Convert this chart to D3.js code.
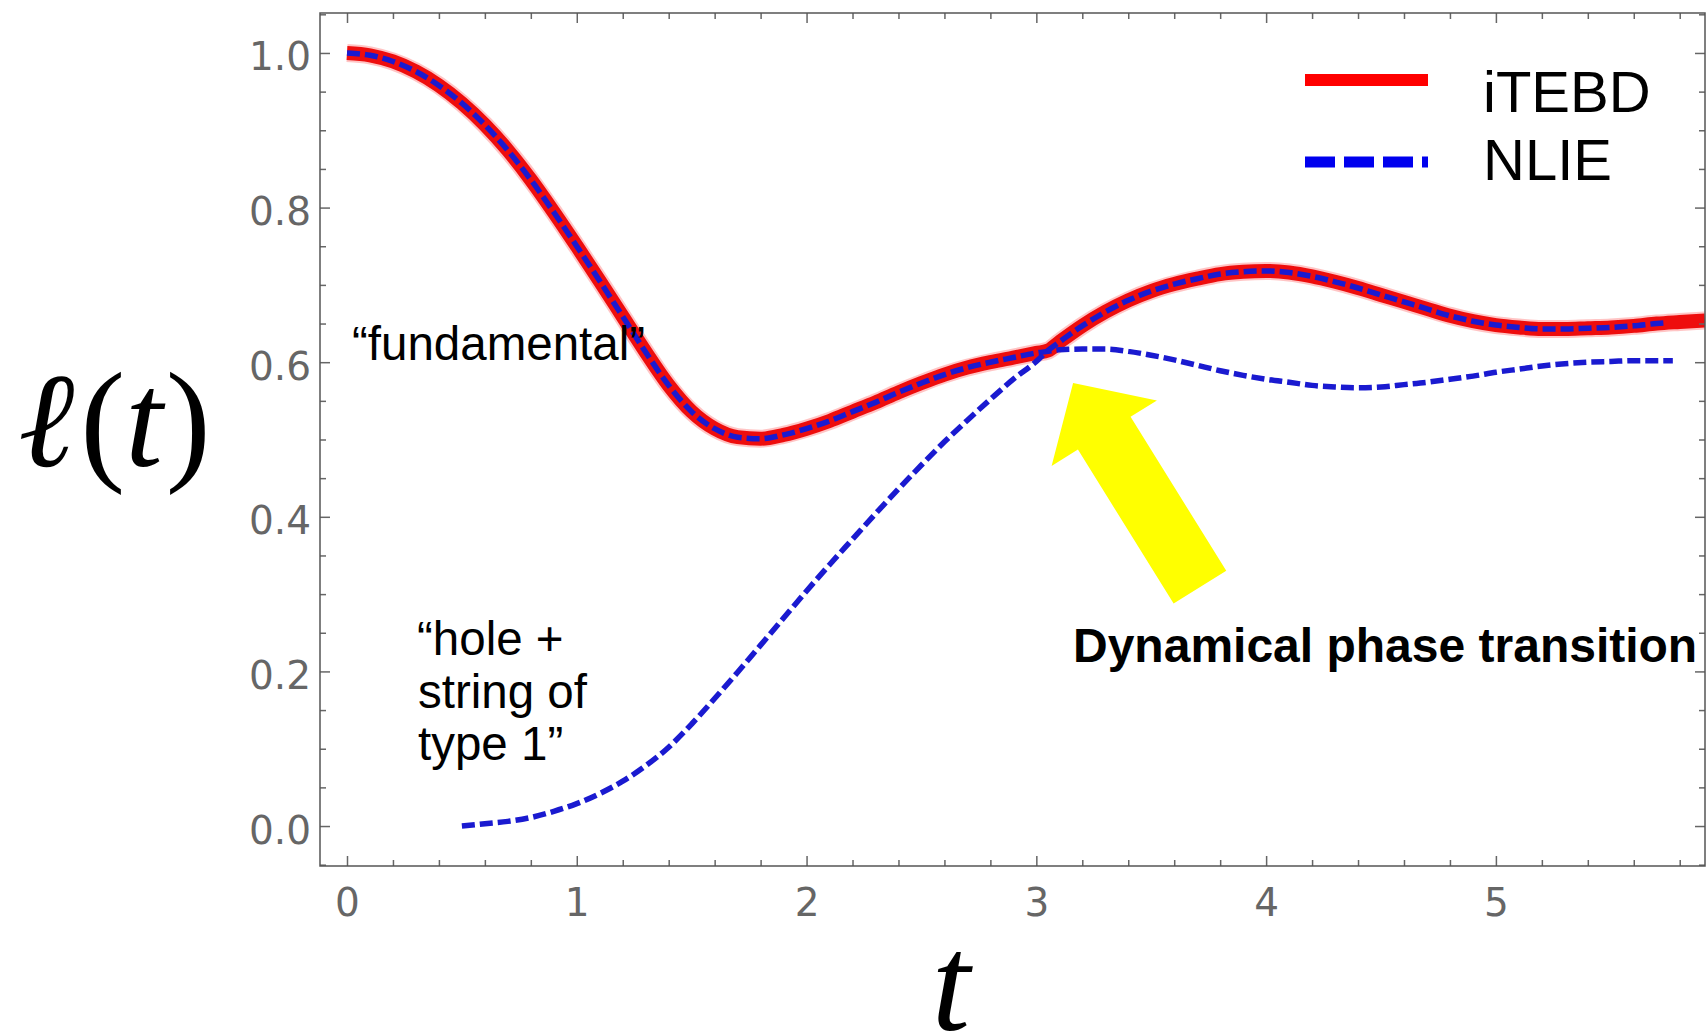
<!DOCTYPE html>
<html>
<head>
<meta charset="utf-8">
<script src="https://cdn.jsdelivr.net/npm/d3@7"></script>
<style>
  body { margin: 0; background: #fff; }
  svg { display: block; }
</style>
</head>
<body>
<svg id="chart" width="1708" height="1035"></svg>
<script>
// iTEBD curve (red, thick)
var itebdT = [0, 0.1, 0.2, 0.3, 0.4, 0.5, 0.6, 0.7, 0.8, 0.9, 1.0, 1.1, 1.2, 1.3, 1.4, 1.5, 1.6, 1.7, 1.8,
              1.9, 2.0, 2.1, 2.2, 2.3, 2.4, 2.5, 2.6, 2.7, 2.8, 2.9, 3.0, 3.05,
              3.1, 3.2, 3.3, 3.4, 3.5, 3.6, 3.7, 3.8, 3.9, 4.0, 4.1, 4.2, 4.3, 4.4, 4.5, 4.6, 4.7,
              4.8, 4.9, 5.0, 5.1, 5.2, 5.3, 5.4, 5.5, 5.6, 5.7, 5.8, 5.91];
var itebdL = [1.0, 0.997, 0.989, 0.976, 0.958, 0.935, 0.907, 0.874, 0.836, 0.794, 0.750, 0.705, 0.659,
              0.613, 0.570, 0.536, 0.514, 0.503, 0.501,
              0.506, 0.514, 0.524, 0.536, 0.548, 0.561, 0.573, 0.584, 0.593, 0.600, 0.606, 0.612, 0.615,
              0.626, 0.647, 0.665, 0.680, 0.692, 0.701, 0.708, 0.714, 0.717, 0.718, 0.716, 0.711, 0.704,
              0.696, 0.687, 0.678, 0.669, 0.660, 0.653, 0.648, 0.645, 0.643, 0.643, 0.644, 0.645, 0.647,
              0.650, 0.652, 0.654];

// NLIE, "fundamental" line: on top of iTEBD up to the crossing, lower branch after it
var fundT = [0, 0.1, 0.2, 0.3, 0.4, 0.5, 0.6, 0.7, 0.8, 0.9, 1.0, 1.1, 1.2, 1.3, 1.4, 1.5, 1.6, 1.7, 1.8,
             1.9, 2.0, 2.1, 2.2, 2.3, 2.4, 2.5, 2.6, 2.7, 2.8, 2.9, 3.0, 3.05,
             3.1, 3.2, 3.3, 3.4, 3.5, 3.6, 3.7, 3.8, 3.9, 4.0, 4.1, 4.2, 4.3, 4.4, 4.5, 4.6, 4.7,
             4.8, 4.9, 5.0, 5.1, 5.2, 5.3, 5.4, 5.5, 5.6, 5.7, 5.77];
var fundL = [1.0, 0.997, 0.989, 0.976, 0.958, 0.935, 0.907, 0.874, 0.836, 0.794, 0.750, 0.705, 0.659,
             0.613, 0.570, 0.536, 0.514, 0.503, 0.501,
             0.506, 0.514, 0.524, 0.536, 0.548, 0.561, 0.573, 0.584, 0.593, 0.600, 0.606, 0.612, 0.614,
             0.616, 0.617, 0.617, 0.614, 0.609, 0.603, 0.596, 0.589, 0.583, 0.578, 0.574, 0.570, 0.568,
             0.567, 0.568, 0.571, 0.574, 0.578, 0.582, 0.587, 0.591, 0.595, 0.598, 0.600, 0.601, 0.602,
             0.602, 0.602];

// NLIE, "hole + string of type 1" line: rises from 0, joins the upper branch after the crossing
var holeT = [0.5, 0.6, 0.7, 0.8, 0.9, 1.0, 1.1, 1.2, 1.3, 1.4, 1.5, 1.6, 1.7, 1.8, 1.9, 2.0, 2.1, 2.2,
             2.3, 2.4, 2.5, 2.6, 2.7, 2.8, 2.9, 3.0, 3.05,
             3.1, 3.2, 3.3, 3.4, 3.5, 3.6, 3.7, 3.8, 3.9, 4.0, 4.1, 4.2, 4.3, 4.4, 4.5, 4.6, 4.7,
             4.8, 4.9, 5.0, 5.1, 5.2, 5.3, 5.4, 5.5, 5.6, 5.7, 5.75];
var holeL = [0.000, 0.003, 0.006, 0.011, 0.019, 0.029, 0.042, 0.058, 0.078, 0.102, 0.132, 0.165, 0.199,
             0.234, 0.269, 0.304, 0.338, 0.371, 0.404, 0.436, 0.467, 0.497, 0.525, 0.552, 0.578, 0.601, 0.615,
             0.626, 0.647, 0.665, 0.680, 0.692, 0.701, 0.708, 0.714, 0.717, 0.718, 0.716, 0.711, 0.704,
             0.696, 0.687, 0.678, 0.669, 0.660, 0.653, 0.648, 0.645, 0.643, 0.643, 0.644, 0.645, 0.647,
             0.650, 0.651];

var xTicks = [0, 1, 2, 3, 4, 5];
var yTicks = [0, 0.2, 0.4, 0.6, 0.8, 1.0];
var legendNames = ["iTEBD", "NLIE"];

// arrow pointing at the crossing (data coords)
var arrowTip = [3.16, 0.573];
var arrowTail = [3.712, 0.309];

var svg = d3.select("#chart"),
    frame = {left: 320, right: 1705, top: 13, bottom: 866},
    tickColor = "#666",
    red = "#ee0d0d",
    blue = "#1a1ad0";

var x = d3.scaleLinear().domain([-0.1175, 5.91]).range([frame.left, frame.right]);
var y = d3.scaleLinear().domain([-0.0517, 1.0517]).range([frame.bottom, frame.top]);

function zip(ts, ls) {
  return ts.map(function(t, i) { return [t, ls[i]]; });
}

var line = d3.line()
  .x(function(d) { return x(d[0]); })
  .y(function(d) { return y(d[1]); })
  .curve(d3.curveMonotoneX);

svg.append("clipPath").attr("id", "plot-clip")
  .append("rect")
  .attr("x", frame.left).attr("y", frame.top)
  .attr("width", frame.right - frame.left).attr("height", frame.bottom - frame.top);

var plot = svg.append("g").attr("clip-path", "url(#plot-clip)");

// curves: soft halo + red band, then the dashed NLIE lines
var itebd = zip(itebdT, itebdL);
plot.append("path")
  .attr("d", line(itebd))
  .attr("fill", "none").attr("stroke", "#ff5a5a").attr("stroke-opacity", 0.35)
  .attr("stroke-width", 18).attr("stroke-linejoin", "round");
plot.append("path")
  .attr("d", line(itebd))
  .attr("fill", "none").attr("stroke", red).attr("stroke-width", 14)
  .attr("stroke-linejoin", "round");

[zip(fundT, fundL), zip(holeT, holeL)].forEach(function(pts) {
  plot.append("path")
    .attr("d", line(pts))
    .attr("fill", "none").attr("stroke", blue).attr("stroke-width", 5.5)
    .attr("stroke-dasharray", "13,5");
});

// frame + ticks (ticks point inward on all four sides)
var xMinor = d3.range(0, 5.91, 0.2).filter(function(v) { return Math.abs(v - Math.round(v)) > 1e-6; });
var yMinor = d3.range(-0.05, 1.06, 0.05).filter(function(v) { return Math.abs(v * 5 - Math.round(v * 5)) > 1e-6; });

function addAxis(axis, transform, values, size, fmt) {
  var g = svg.append("g")
    .attr("transform", transform)
    .call(axis.tickValues(values).tickSizeInner(-size).tickSizeOuter(0).tickFormat(fmt || ""));
  g.select(".domain").remove();
  g.selectAll(".tick line").attr("stroke", tickColor).attr("stroke-width", 1.5);
  return g;
}

var bottomAxis = addAxis(d3.axisBottom(x), "translate(0," + frame.bottom + ")", xTicks, 10, d3.format("d"));
addAxis(d3.axisBottom(x), "translate(0," + frame.bottom + ")", xMinor, 6);
addAxis(d3.axisTop(x), "translate(0," + frame.top + ")", xTicks, 10);
addAxis(d3.axisTop(x), "translate(0," + frame.top + ")", xMinor, 6);
var leftAxis = addAxis(d3.axisLeft(y), "translate(" + frame.left + ",0)", yTicks, 10, d3.format(".1f"));
addAxis(d3.axisLeft(y), "translate(" + frame.left + ",0)", yMinor, 6);
addAxis(d3.axisRight(y), "translate(" + frame.right + ",0)", yTicks, 10);
addAxis(d3.axisRight(y), "translate(" + frame.right + ",0)", yMinor, 6);

bottomAxis.selectAll("text")
  .attr("y", 50).attr("dy", null)
  .attr("fill", tickColor)
  .style("font-family", "'DejaVu Sans', sans-serif").style("font-size", "39px");
leftAxis.selectAll("text")
  .attr("x", -9).attr("dy", 17)
  .attr("fill", tickColor)
  .style("font-family", "'DejaVu Sans', sans-serif").style("font-size", "39px");

svg.append("rect")
  .attr("x", frame.left).attr("y", frame.top)
  .attr("width", frame.right - frame.left).attr("height", frame.bottom - frame.top)
  .attr("fill", "none").attr("stroke", "#555").attr("stroke-width", 1.5);

// axis labels
var ylab = svg.append("text")
  .attr("x", 18).attr("y", 466)
  .style("font-family", "'Liberation Serif', 'DejaVu Serif', serif").style("font-size", "135px");
ylab.append("tspan").style("font-style", "italic").text("ℓ");
ylab.append("tspan").attr("dx", 6).text("(");
ylab.append("tspan").style("font-style", "italic").text("t");
ylab.append("tspan").attr("dx", 3).text(")");

svg.append("text")
  .attr("x", 951).attr("y", 1030)
  .attr("text-anchor", "middle")
  .style("font-family", "'Liberation Serif', 'DejaVu Serif', serif")
  .style("font-style", "italic").style("font-size", "138px")
  .text("t");

// legend
var legend = svg.append("g");
legend.append("line")
  .attr("x1", 1305).attr("x2", 1428).attr("y1", 80).attr("y2", 80)
  .attr("stroke", "#ff0000").attr("stroke-width", 12);
legend.append("line")
  .attr("x1", 1305).attr("x2", 1428).attr("y1", 162).attr("y2", 162)
  .attr("stroke", "#0000ee").attr("stroke-width", 11).attr("stroke-dasharray", "30,9");
legend.selectAll("text.lg")
  .data(legendNames)
  .enter().append("text")
  .attr("class", "lg")
  .attr("x", 1483)
  .attr("y", function(d, i) { return 112 + i * 68; })
  .style("font-family", "'Liberation Sans', Arial, sans-serif").style("font-size", "58px")
  .text(function(d) { return d; });

// yellow arrow
var P = [x(arrowTip[0]), y(arrowTip[1])],
    Q = [x(arrowTail[0]), y(arrowTail[1])],
    len = Math.hypot(P[0] - Q[0], P[1] - Q[1]),
    u = [(P[0] - Q[0]) / len, (P[1] - Q[1]) / len],
    n = [-u[1], u[0]],
    headLen = 59, headHalf = 62, shaftHalf = 31,
    B = [P[0] - u[0] * headLen, P[1] - u[1] * headLen];
function off(p, k) { return [p[0] + n[0] * k, p[1] + n[1] * k]; }
var arrowPts = [P, off(B, headHalf), off(B, shaftHalf), off(Q, shaftHalf),
                off(Q, -shaftHalf), off(B, -shaftHalf), off(B, -headHalf)];
svg.append("polygon")
  .attr("points", arrowPts.map(function(p) { return p.join(","); }).join(" "))
  .attr("fill", "#ffff00");

// annotations
var ann = svg.append("g")
  .style("font-family", "'Liberation Sans', Arial, sans-serif")
  .style("font-size", "47.5px");
ann.append("text").attr("x", 352).attr("y", 360).text("\u201Cfundamental\u201D");
ann.append("text").attr("x", 417).attr("y", 655).text("\u201Chole +");
ann.append("text").attr("x", 418).attr("y", 708).text("string of");
ann.append("text").attr("x", 418).attr("y", 760).text("type 1\u201D");

svg.append("text")
  .attr("x", 1073).attr("y", 662)
  .style("font-family", "'Liberation Sans', Arial, sans-serif")
  .style("font-size", "48px").style("font-weight", "bold")
  .text("Dynamical phase transition");
</script>
</body>
</html>
